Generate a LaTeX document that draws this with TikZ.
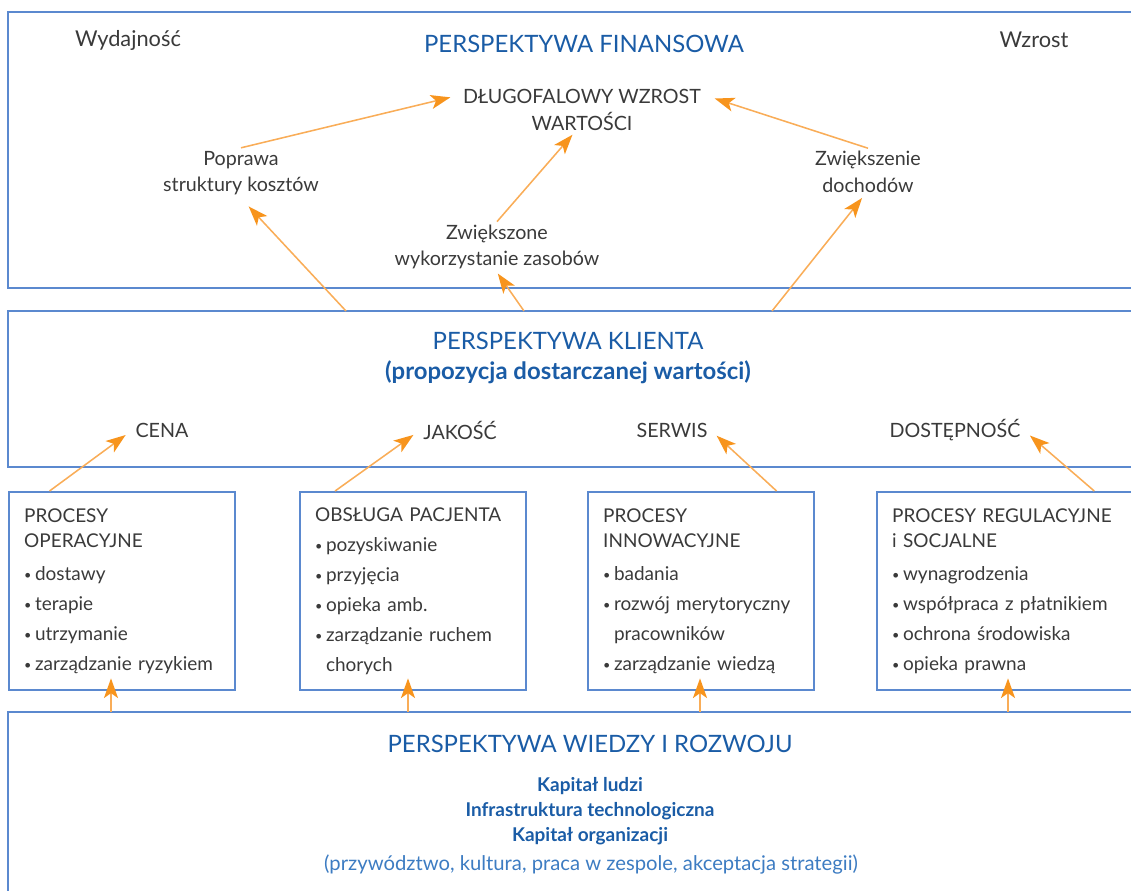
\documentclass[tikz,border=0pt]{standalone}
\usepackage{fontspec}
\setmainfont{Lato}
\usepackage{tikz}
\usetikzlibrary{positioning, arrows.meta}
\definecolor{titleblue}{HTML}{1A5CA6}
\definecolor{softblue}{HTML}{3D7CC2}
\definecolor{frameblue}{HTML}{5B89CF}
\definecolor{txtgray}{HTML}{3A3A3A}
\definecolor{headorange}{HTML}{F7941D}
\definecolor{lineorange}{HTML}{F9AD58}
\tikzstyle{arrow} = [draw=lineorange, line width=1.1pt, -{Stealth[length=14pt, width=10pt, inset=3.5pt, color=headorange]}]
\newcommand{\pkt}{\raisebox{0.8pt}{\fontsize{9}{9}\selectfont\textbullet}\hspace{2.5pt}}

\begin{document}
\begin{tikzpicture}[x=0.025cm, y=-0.025cm,
    panel/.style={draw=frameblue, line width=1.4pt},
    graytext/.style={text=txtgray, font=\fontsize{14}{19}\selectfont, align=center, inner sep=2pt},
    heading/.style={text=titleblue, font=\fontsize{17}{21.5}\selectfont, align=center},
    capital/.style={text=titleblue, font=\fontsize{13.5}{17.8}\selectfont\bfseries, align=center},
    procbox/.style={draw=frameblue, line width=1.4pt, anchor=north west, align=left, text=txtgray, font=\fontsize{13.5}{21.3}\selectfont, inner xsep=0.38cm, minimum height=4.95cm}]

    \useasboundingbox (0,0) rectangle (1131,890);
    \clip (0,0) rectangle (1131,890);

    % Ramki perspektyw
    \draw[panel] (8,12) rectangle (1160,288);
    \draw[panel] (8,311) rectangle (1160,467);
    \draw[panel] (8,712) rectangle (1160,910);

    % Perspektywa finansowa
    \node[graytext, font=\fontsize{15.5}{19}\selectfont] (wyd) at (128,40) {Wydajność};
    \node[graytext, font=\fontsize{15.5}{19}\selectfont] (wzr) at (1034,40) {Wzrost};
    \node[heading] (fin) at (584,44) {PERSPEKTYWA FINANSOWA};
    \node[graytext] (dlugo) at (582,110) {DŁUGOFALOWY WZROST\\WARTOŚCI};
    \node[graytext] (popr) at (241,173) {Poprawa\\struktury kosztów};
    \node[graytext] (zasob) at (497,247) {Zwiększone\\wykorzystanie zasobów};
    \node[graytext] (doch) at (868,172) {Zwiększenie\\dochodów};

    % Perspektywa klienta
    \node[heading] (klient) at (568,358) {PERSPEKTYWA KLIENTA\\\textbf{(propozycja dostarczanej wartości)}};
    \node[graytext] (cena) at (162,430) {CENA};
    \node[graytext] (jakosc) at (460,430) {JAKOŚĆ};
    \node[graytext] (serwis) at (672,430) {SERWIS};
    \node[graytext] (dostep) at (955,430) {DOSTĘPNOŚĆ};

    % Procesy wewnetrzne
    \node[procbox, text width=4.9cm] (oper) at (8,491) {PROCESY\\[-3pt]OPERACYJNE\\[2pt]\pkt dostawy\\\pkt terapie\\\pkt utrzymanie\\\pkt zarządzanie ryzykiem};
    \node[procbox, text width=4.9cm] (obsl) at (299,491) {OBSŁUGA PACJENTA\\\pkt pozyskiwanie\\\pkt przyjęcia\\\pkt opieka amb.\\\pkt zarządzanie ruchem\\\hphantom{\pkt}chorych};
    \node[procbox, text width=4.9cm] (innow) at (587,491) {PROCESY\\[-3pt]INNOWACYJNE\\[2pt]\pkt badania\\\pkt rozwój merytoryczny\\\hphantom{\pkt}pracowników\\\pkt zarządzanie wiedzą};
    \node[procbox, text width=6.6cm] (regul) at (876,491) {PROCESY REGULACYJNE\\[-3pt]i SOCJALNE\\[2pt]\pkt wynagrodzenia\\\pkt współpraca z płatnikiem\\\pkt ochrona środowiska\\\pkt opieka prawna};

    % Perspektywa wiedzy i rozwoju
    \node[heading] (wiedza) at (590,744) {PERSPEKTYWA WIEDZY I ROZWOJU};
    \node[capital] (kapital) at (590,811) {Kapitał ludzi\\Infrastruktura technologiczna\\Kapitał organizacji};
    \node[text=softblue, font=\fontsize{14.4}{19}\selectfont] (przyw) at (591,864) {(przywództwo, kultura, praca w zespole, akceptacja strategii)};

    % Punkty startowe strzalek
    \coordinate (k1) at (346,311);
    \coordinate (k2) at (524,311);
    \coordinate (k3) at (772,311);
    \coordinate (w1) at (111,712);
    \coordinate (w2) at (408,712);
    \coordinate (w3) at (700,712);
    \coordinate (w4) at (1008,712);

    % Strzalki w perspektywie finansowej
    \draw[arrow, shorten >=7pt] (popr.north) -- (dlugo.173);
    \draw[arrow, shorten >=1pt] (zasob.north) -- (dlugo.250);
    \draw[arrow, shorten >=8pt] (doch.north) -- (dlugo.7);

    % Klient -> finanse
    \draw[arrow, shorten >=8pt] (k1) -- (popr.south);
    \draw[arrow, shorten >=1pt] (k2) -- (zasob.south);
    \draw[arrow, shorten >=2pt] (k3) -- (doch.-100);

    % Procesy -> klient
    \draw[arrow, shorten >=6pt] (oper.126) -- (cena.west);
    \draw[arrow, shorten >=6pt] (obsl.128) -- (jakosc.west);
    \draw[arrow, shorten >=6pt] (innow.53) -- (serwis.east);
    \draw[arrow, shorten >=6pt] (regul.55) -- (dostep.east);

    % Wiedza i rozwoj -> procesy
    \draw[arrow, shorten >=-9pt] (w1) -- (w1 |- oper.south);
    \draw[arrow, shorten >=-9pt] (w2) -- (w2 |- obsl.south);
    \draw[arrow, shorten >=-9pt] (w3) -- (w3 |- innow.south);
    \draw[arrow, shorten >=-9pt] (w4) -- (w4 |- regul.south);
\end{tikzpicture}
\end{document}
